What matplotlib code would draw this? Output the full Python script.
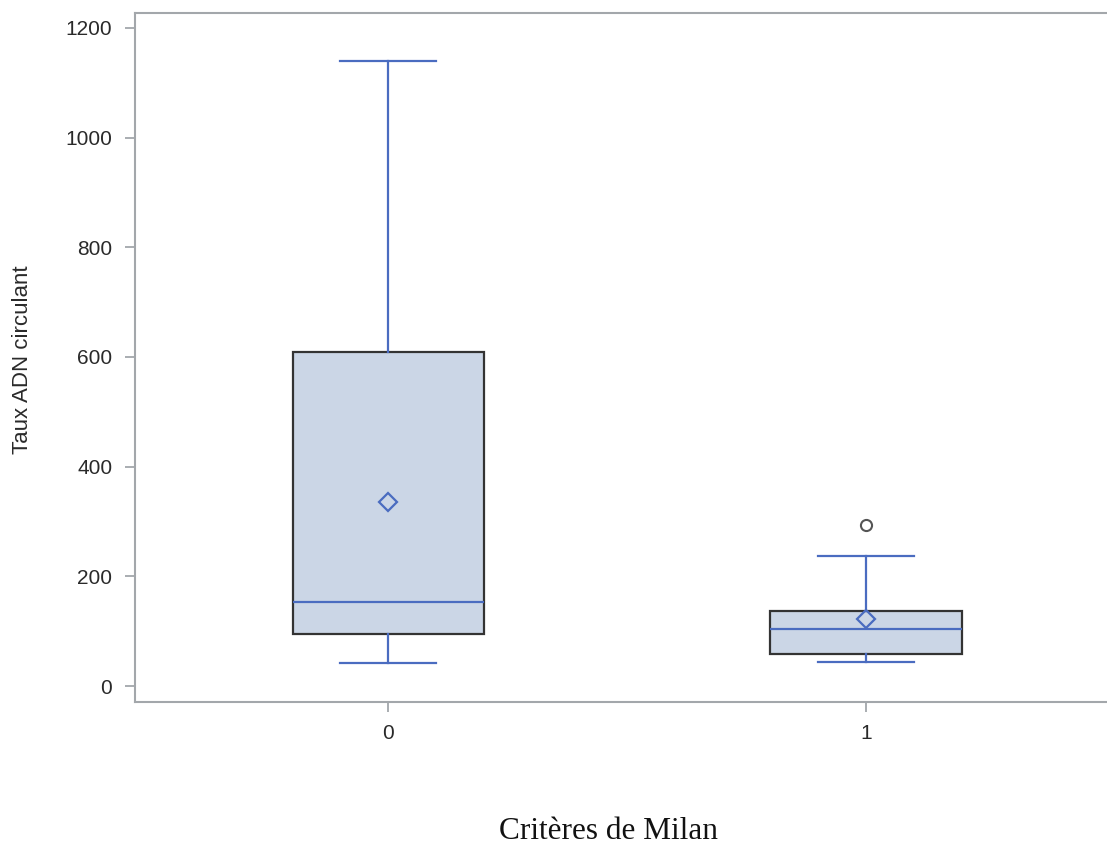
import matplotlib.pyplot as plt

# values
groups = ["0", "1"]
q1 = [95, 58]
med = [153, 105]
q3 = [609, 137]
mean = [335, 122]
whislo = [42, 44]
whishi = [1140, 238]
fliers = [[], [294]]

yticks = [0, 200, 400, 600, 800, 1000, 1200]

blue = "#4a6cc0"
grey = "#a3a7ab"

stats = []
for i in range(len(groups)):
    stats.append({"label": groups[i], "q1": q1[i], "med": med[i], "q3": q3[i],
                  "mean": mean[i], "whislo": whislo[i], "whishi": whishi[i],
                  "fliers": fliers[i]})

fig = plt.figure(figsize=(11.07, 8.44), dpi=100)
ax = fig.add_axes([0.122, 0.1682, 0.889, 0.8164])

ax.bxp(stats, positions=[0, 1], widths=0.4, patch_artist=True, showmeans=True,
       boxprops=dict(facecolor="#cbd6e6", edgecolor="#333333", linewidth=1.6),
       medianprops=dict(color=blue, linewidth=1.6),
       whiskerprops=dict(color=blue, linewidth=1.6),
       capprops=dict(color=blue, linewidth=1.6),
       capwidths=0.2,
       meanprops=dict(marker="D", markersize=9.5, markerfacecolor="none",
                      markeredgecolor=blue, markeredgewidth=1.6),
       flierprops=dict(marker="o", markersize=8, markerfacecolor="none",
                       markeredgecolor="#555555", markeredgewidth=1.5))

ax.set_xlim(-0.53, 1.53)
ax.set_ylim(-29, 1227)
ax.set_yticks(yticks)

for s in ax.spines.values():
    s.set_color(grey)
    s.set_linewidth(1.5)

ax.tick_params(colors=grey, width=1.3, length=7.5, labelcolor="#2a2a2a",
               labelsize=15, pad=9)
for lab in ax.get_xticklabels() + ax.get_yticklabels():
    lab.set_family("Liberation Sans")
ax.tick_params(axis="x", pad=8)

ax.set_ylabel("Taux ADN circulant", family="Liberation Sans", fontsize=16,
              color="#2a2a2a")
ax.yaxis.set_label_coords(-0.104, 0.497)

fig.text(0.55, 0.006, "Critères de Milan", family="Liberation Serif",
         fontsize=22.5, ha="center", va="baseline", color="#111111")

fig.savefig("out.png", dpi=100)
